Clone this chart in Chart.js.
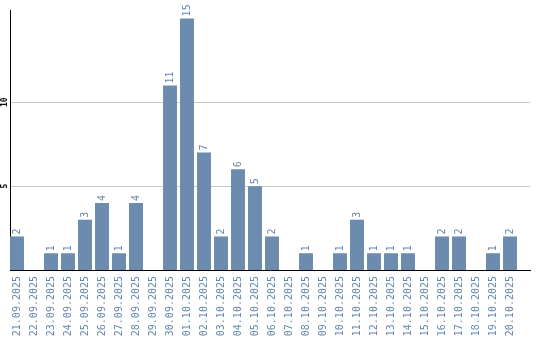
<!DOCTYPE html>
<html>
<head>
<meta charset="utf-8">
<script src="https://cdn.jsdelivr.net/npm/chart.js"></script>
<style>
  html, body { margin: 0; padding: 0; background: #fff; }
  canvas { display: block; }
</style>
</head>
<body>
<canvas id="chart" width="540" height="340"></canvas>
<script>
// dates along the bottom
const dates = [
  '21.09.2025', '22.09.2025', '23.09.2025', '24.09.2025', '25.09.2025',
  '26.09.2025', '27.09.2025', '28.09.2025', '29.09.2025', '30.09.2025',
  '01.10.2025', '02.10.2025', '03.10.2025', '04.10.2025', '05.10.2025',
  '06.10.2025', '07.10.2025', '08.10.2025', '09.10.2025', '10.10.2025',
  '11.10.2025', '12.10.2025', '13.10.2025', '14.10.2025', '15.10.2025',
  '16.10.2025', '17.10.2025', '18.10.2025', '19.10.2025', '20.10.2025'
];
const counts = [
  2, 0, 1, 1, 3, 4, 1, 4, 0, 11,
  15, 7, 2, 6, 5, 2, 0, 1, 0, 1,
  3, 1, 1, 1, 0, 2, 2, 0, 1, 2
];
const yTicks = [5, 10];

const barColor = '#6b8cae';
const textColor = '#6487ad';
const monoFont = "'DejaVu Sans Mono', monospace";

// value labels above the bars, rotated
const valueLabels = {
  id: 'valueLabels',
  afterDatasetsDraw(chart) {
    const ctx = chart.ctx;
    const meta = chart.getDatasetMeta(0);
    ctx.save();
    ctx.fillStyle = textColor;
    ctx.font = '10px ' + monoFont;
    ctx.textAlign = 'left';
    ctx.textBaseline = 'middle';
    meta.data.forEach((bar, i) => {
      if (!counts[i]) return;
      ctx.save();
      ctx.translate(bar.x, bar.y - 2);
      ctx.rotate(-Math.PI / 2);
      ctx.fillText(String(counts[i]), 0, 0);
      ctx.restore();
    });
    ctx.restore();
  }
};

new Chart(document.getElementById('chart'), {
  type: 'bar',
  data: {
    datasets: [{
      data: counts.map((v, i) => ({ x: i, y: v })),
      backgroundColor: barColor,
      borderWidth: 0,
      categoryPercentage: 1,
      barPercentage: 0.82
    }]
  },
  options: {
    responsive: false,
    animation: false,
    layout: { padding: { top: 10, right: 10, left: 0, bottom: 0 } },
    plugins: {
      legend: { display: false },
      tooltip: { enabled: false }
    },
    scales: {
      x: {
        type: 'linear',
        offset: false,
        min: -7 / 17,
        max: 29 + 20 / 17,
        grid: { display: false, drawTicks: false, offset: false },
        border: { display: true, color: '#000', width: 1 },
        afterBuildTicks: (scale) => {
          scale.ticks = dates.map((d, i) => ({ value: i }));
        },
        afterFit: (scale) => { scale.height = 70; },
        ticks: {
          autoSkip: false,
          minRotation: 90,
          maxRotation: 90,
          padding: 6,
          color: textColor,
          font: { family: monoFont, size: 10 },
          callback: (val) => dates[val]
        }
      },
      y: {
        min: 0,
        max: 15.5,
        grid: { color: '#c8c8c8', drawTicks: false },
        border: { display: true, color: '#000', width: 1 },
        afterBuildTicks: (scale) => {
          scale.ticks = yTicks.map(v => ({ value: v }));
        },
        afterFit: (scale) => { scale.width = 10; },
        ticks: {
          minRotation: 90,
          maxRotation: 90,
          crossAlign: 'center',
          padding: 0,
          color: '#000',
          font: { family: monoFont, size: 8, weight: 'bold' }
        }
      }
    }
  },
  plugins: [valueLabels]
});
</script>
</body>
</html>
